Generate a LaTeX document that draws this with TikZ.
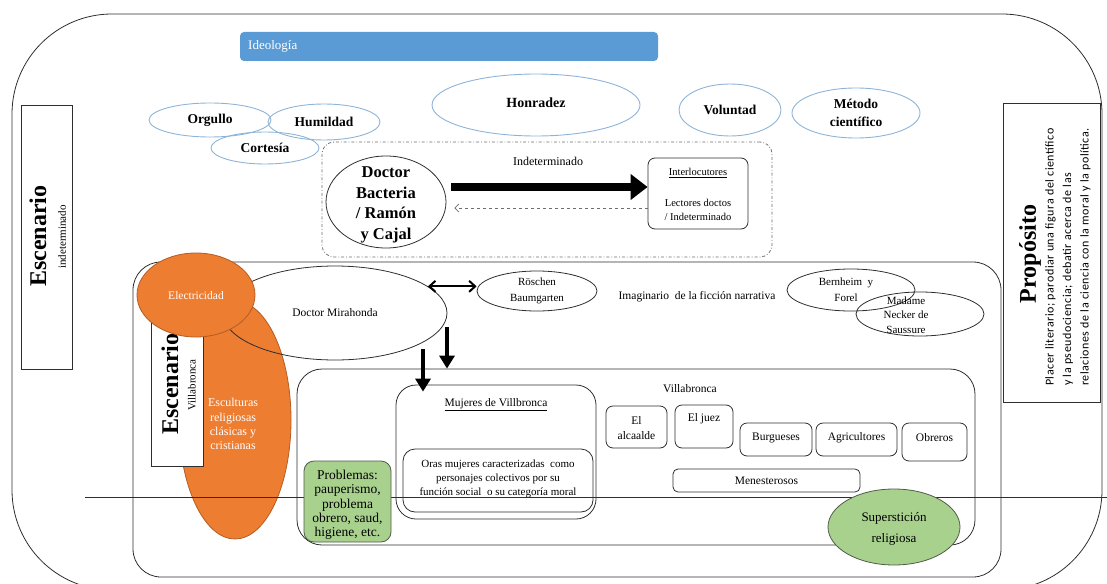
\documentclass[tikz,border=0pt]{standalone}
\usepackage{fontspec}
\setmainfont{Liberation Serif}
\newfontfamily\calibri[LetterSpace=4.5]{Carlito}
\usetikzlibrary{shapes.geometric,arrows.meta}
\definecolor{barblue}{HTML}{5B9BD5}
\definecolor{ellblue}{HTML}{8DB3D9}
\definecolor{orangefill}{HTML}{ED7D31}
\definecolor{orangeline}{HTML}{B35D24}
\definecolor{greenfill}{HTML}{A9D18E}
\definecolor{greenline}{HTML}{505C48}
\definecolor{ink}{HTML}{2E2E2E}
\definecolor{dashgray}{HTML}{6E6E6E}
\newcommand{\fsz}[2]{\fontsize{#1}{#2}\selectfont}

\begin{document}
\begin{tikzpicture}[x=1pt,y=-1pt,
  oval/.style={ellipse,inner sep=0pt,line width=0.8pt},
  virtue/.style={oval,draw=ellblue,line width=0.9pt},
  plainoval/.style={oval,draw=ink},
  orangeoval/.style={oval,fill=orangefill,draw=orangeline},
  greenoval/.style={oval,fill=greenfill,draw=greenline},
  txt/.style={inner sep=0pt,align=center,font=\fsz{11.5}{15}},
  virtuetxt/.style={inner sep=0pt,align=center,font=\fsz{13.5}{18}\bfseries},
  whitetxt/.style={txt,text=white,font=\fsz{12}{14.2}},
  panel/.style={rectangle,draw=ink,line width=0.8pt,inner sep=0pt},
  tag/.style={panel,rounded corners=7pt},
  fatarrow/.style={draw=black,line width=8pt,-{Triangle[length=17pt,width=25pt]}},
  downarrow/.style={draw=black,line width=4.5pt,-{Triangle[length=13pt,width=15pt]}},
  twoway/.style={draw=black,line width=2pt,{Straight Barb[length=6pt,width=11pt]}-{Straight Barb[length=6pt,width=11pt]}},
  backarrow/.style={draw=dashgray,line width=0.7pt,dashed,-{Straight Barb[length=4pt,width=8pt]}},
]
\useasboundingbox (0,0) rectangle (1107,583);
\clip (0,0) rectangle (1107,583);

% outer frame
\node[panel,rounded corners=100pt,minimum width=1090pt,minimum height=576pt] (frame) at (557,302) {};

% ideology banner
\node[rectangle,fill=barblue,rounded corners=4pt,minimum width=418pt,minimum height=29pt,inner sep=0pt] (ideo) at (449,46.5) {};
\node[anchor=west,inner sep=0pt,text=white,font=\fsz{13}{15}] (ideotxt) at (248,46.5) {Ideología};

% values
\node[virtue,minimum width=122pt,minimum height=34pt] (orgullo) at (210,120) {};
\node[virtue,minimum width=112pt,minimum height=36pt] (humildad) at (324,122) {};
\node[virtue,minimum width=108pt,minimum height=32pt] (cortesia) at (265,148) {};
\node[virtue,minimum width=208pt,minimum height=62pt] (honradez) at (536,105) {};
\node[virtue,minimum width=102pt,minimum height=52pt] (voluntad) at (730,110) {};
\node[virtue,minimum width=128pt,minimum height=50pt] (metodo) at (856,113) {};
\node[virtuetxt] (orgullotxt) at (orgullo) {Orgullo};
\node[virtuetxt] (humildadtxt) at (humildad) {Humildad};
\node[virtuetxt] (cortesiatxt) at (cortesia) {Cortesía};
\node[virtuetxt,font=\fsz{14}{18}\bfseries] (honradeztxt) at ([yshift=2pt]honradez) {Honradez};
\node[virtuetxt] (voluntadtxt) at (voluntad) {Voluntad};
\node[virtuetxt] (metodotxt) at (metodo) {Método\\científico};

% side panels
\node[panel,minimum width=51pt,minimum height=264pt] (escind) at (46.5,237) {};
\node[rotate=90,inner sep=0pt,font=\fsz{24}{26}\bfseries] (escindtit) at (38,236) {Escenario};
\node[rotate=90,inner sep=0pt,font=\fsz{11}{13}] (escindsub) at (62,237) {indeterminado};

\node[panel,minimum width=97pt,minimum height=299pt] (prop) at (1051.5,252.5) {};
\node[rotate=90,inner sep=0pt,font=\fsz{24}{26}\bfseries] (proptit) at (1030,254) {Propósito};
\node[rotate=90,anchor=west,inner sep=0pt,align=left,font=\calibri\fsz{12}{17.5}] (propdesc) at (1068,386)
  {Placer literario; parodiar una figura del científico\\y la pseudociencia; debatir acerca de las\\relaciones de la ciencia con la moral y la política.};

% real-world communication
\node[rectangle,draw=dashgray,line width=0.8pt,dash dot,rounded corners=12pt,minimum width=450pt,minimum height=115pt,inner sep=0pt] (real) at (547,199.5) {};
\node[txt,font=\fsz{12}{14}] (realtxt) at (548,161) {Indeterminado};
\node[plainoval,minimum width=120pt,minimum height=92pt] (bact) at (386,202) {};
\node[inner sep=0pt,align=center,font=\fsz{16.5}{20.5}\bfseries] (bacttxt) at (386,205) {Doctor\\Bacteria\\/ Ramón\\y Cajal};
\node[tag,minimum width=100pt,minimum height=71pt] (inter) at (698,193.5) {};
\node[txt,font=\fsz{10.5}{13}] (intertit) at (698,173) {\underline{Interlocutores}};
\node[txt,font=\fsz{10.5}{13.5}] (interdesc) at (698,210) {Lectores doctos\\/ Indeterminado};
\draw[fatarrow] ([xshift=5pt,yshift=15pt]bact.east) -- ([yshift=15pt]bact.east -| inter.west);
\draw[backarrow] ([yshift=-6pt]bact.east -| inter.west) -- ([xshift=8pt,yshift=-6pt]bact.east);

% fictional world
\node[panel,rounded corners=28pt,minimum width=868pt,minimum height=315pt] (ficcion) at (567,419.5) {};
\node[txt] (ficciontxt) at (697,297) {Imaginario\ \ de la ficción narrativa};

\node[orangeoval,minimum width=112pt,minimum height=238pt] (esculturas) at (235,420) {};
\node[whitetxt] (esculturastxt) at (233,424) {Esculturas\\religiosas\\clásicas y\\cristianas};

\node[plainoval,minimum width=224pt,minimum height=94pt] (mira) at (335,313) {};
\node[txt] (miratxt) at (335,313) {Doctor Mirahonda};

\node[panel,fill=white,minimum width=52pt,minimum height=166pt] (escvil) at (177,383) {};
\node[rotate=90,inner sep=0pt,font=\fsz{24}{26}\bfseries] (escviltit) at (170,384) {Escenario};
\node[rotate=90,inner sep=0pt,font=\fsz{11}{13}] (escvilsub) at (192,385) {Villabronca};

\node[orangeoval,minimum width=118pt,minimum height=84pt] (elec) at (196,295) {};
\node[whitetxt,font=\fsz{11.5}{14}] (electxt) at (196,296) {Electricidad};

\node[plainoval,minimum width=120pt,minimum height=40pt] (rosch) at (537,291) {};
\node[txt,font=\fsz{11}{16}] (roschtxt) at (537,291) {Röschen\\Baumgarten};
\draw[twoway] (mira.16) -- (mira.16 -| rosch.west);

\node[plainoval,minimum width=128pt,minimum height=42pt] (bernheim) at (851,290) {};
\node[txt,font=\fsz{11}{16}] (bernheimtxt) at (846,290) {Bernheim\ \ y\\Forel};
\node[plainoval,minimum width=128pt,minimum height=44pt] (necker) at (920,314) {};
\node[txt,font=\fsz{11}{14.5}] (neckertxt) at (906,315) {Madame\\Necker de\\Saussure};

% Villabronca
\node[panel,rounded corners=25pt,minimum width=678pt,minimum height=176pt] (vill) at (636,457) {};
\node[txt] (villtxt) at (690,389) {Villabronca};

\node[panel,rounded corners=20pt,minimum width=200pt,minimum height=134pt] (mujeres) at (496,452) {};
\node[txt] (mujerestit) at (496,405) {\underline{Mujeres de Villbronca}};
\node[panel,rounded corners=12pt,minimum width=190pt,minimum height=63pt] (otras) at (498,480.5) {};
\node[txt,font=\fsz{11}{14}] (otrastxt) at (498,479) {Oras mujeres caracterizadas\ \ como\\personajes colectivos por su\\función social\ \ o su categoría moral};

\node[tag,minimum width=61pt,minimum height=42pt] (alcalde) at (636.5,427) {};
\node[txt] (alcaldetxt) at (636.5,428) {El\\alcaalde};
\node[tag,minimum width=58pt,minimum height=43pt] (juez) at (704,426.5) {};
\node[txt] (jueztxt) at (704,419) {El juez};
\node[tag,minimum width=72pt,minimum height=33pt] (burg) at (776,439.5) {};
\node[txt] (burgtxt) at (776,438) {Burgueses};
\node[tag,minimum width=81pt,minimum height=33pt] (agri) at (856.5,439.5) {};
\node[txt] (agritxt) at (856.5,438) {Agricultores};
\node[tag,minimum width=65pt,minimum height=38pt] (obreros) at (934.5,442) {};
\node[txt] (obrerostxt) at (934.5,438) {Obreros};
\node[tag,rounded corners=5pt,minimum width=187pt,minimum height=23pt] (menest) at (766.5,480.5) {};
\node[txt] (menesttxt) at (766.5,481) {Menesterosos};

% arrows from the doctor into the town
\coordinate (dropA) at (447,327);
\coordinate (dropB) at (423,349);
\draw[downarrow] (dropA) -- (dropA |- vill.north);
\draw[downarrow] (dropB) -- ([yshift=-7pt]dropB |- mujeres.north);

% dividing rule
\coordinate (ruleL) at (85,497);
\coordinate (ruleR) at (1107,497);
\draw[draw=ink,line width=0.8pt] (ruleL) -- (ruleR);

% social issues
\node[rectangle,fill=greenfill,draw=greenline,line width=0.8pt,rounded corners=10pt,minimum width=87pt,minimum height=81pt,inner sep=0pt] (prob) at (347.5,501.5) {};
\node[txt,font=\fsz{13.5}{14.3}] (probtxt) at (347.5,505) {Problemas:\\pauperismo,\\problema\\obrero, saud,\\higiene, etc.};
\node[greenoval,minimum width=132pt,minimum height=76pt] (superst) at (894,527) {};
\node[txt,font=\fsz{13}{21}] (supersttxt) at (894,529) {Superstición\\religiosa};
\end{tikzpicture}
\end{document}
